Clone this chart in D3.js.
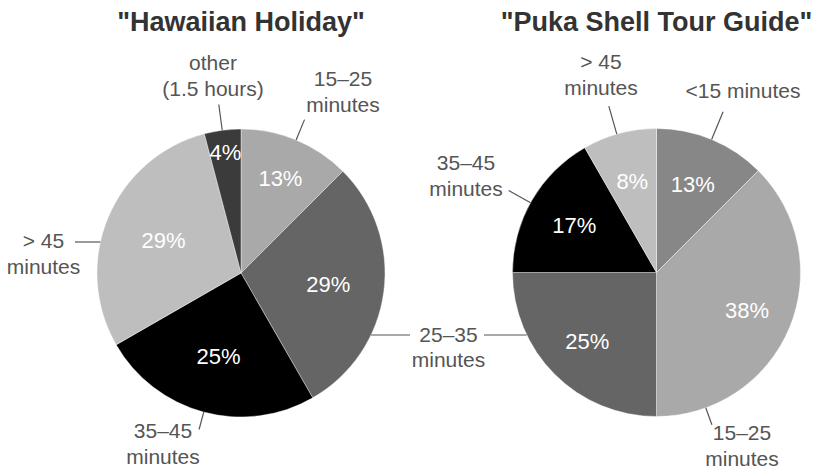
<!DOCTYPE html>
<html>
<head>
<meta charset="utf-8">
<script src="https://cdn.jsdelivr.net/npm/d3@7"></script>
<style>
  body { margin: 0; background: #fff; }
  svg text { font-family: "Liberation Sans", Arial, Helvetica, sans-serif; }
</style>
</head>
<body>
<div id="chart"></div>
<script>
// data (shares in %, clockwise from 12 o'clock)
const hawaiianCategories = ['15–25 minutes', '25–35 minutes', '35–45 minutes', '> 45 minutes', 'other (1.5 hours)'];
const hawaiianShares = [12.5, 29.2, 25, 29.2, 4.1];
const hawaiianPctLabels = ['13%', '29%', '25%', '29%', '4%'];

const pukaCategories = ['<15 minutes', '15–25 minutes', '25–35 minutes', '35–45 minutes', '> 45 minutes'];
const pukaShares = [12.5, 37.5, 25, 16.7, 8.3];
const pukaPctLabels = ['13%', '38%', '25%', '17%', '8%'];

const titles = ['"Hawaiian Holiday"', '"Puka Shell Tour Guide"'];

const allCategories = ['<15 minutes', '15–25 minutes', '25–35 minutes', '35–45 minutes', '> 45 minutes', 'other (1.5 hours)'];

const width = 822, height = 468, radius = 144;

const color = d3.scaleOrdinal()
  .domain(allCategories)
  .range(['#878787', '#a9a9a9', '#656565', '#000000', '#bebebe', '#3b3b3b']);

// label layout, offsets relative to each pie centre
const hawaiianLayout = {
  cx: 241, cy: 273,
  pctRadius: [103, 88, 86, 84, 122],
  labels: [
    { lines: ['15–25', 'minutes'], x: 102, y: -187, leader: { angle: 22.5, r1: 166 } },
    { lines: ['25–35', 'minutes'], x: 207.5, y: 68.7, leader: { h: 62, x: 169 } },
    { lines: ['35–45', 'minutes'], x: -78, y: 165, leader: { angle: 195, r1: 162 } },
    { lines: ['> 45', 'minutes'], x: -197.5, y: -25, leader: { h: -31, x: -166 } },
    { lines: ['other', '(1.5 hours)'], x: -28, y: -203, leader: { angle: 352.5, r1: 170 } }
  ]
};

const pukaLayout = {
  cx: 656.5, cy: 272.5,
  pctRadius: [95, 98, 98, 95, 94],
  labels: [
    { lines: ['<15 minutes'], x: 86.5, y: -174.5, leader: { angle: 22.5, r1: 174 } },
    { lines: ['15–25', 'minutes'], x: 85.5, y: 167.5, leader: { angle: 160, r1: 162 } },
    { lines: [], leader: { h: 62.5, x: -172.5 } }, // shares the text drawn by the left pie
    { lines: ['35–45', 'minutes'], x: -190.5, y: -102.5, leader: { angle: 299, r1: 169 } },
    { lines: ['> 45', 'minutes'], x: -55.5, y: -203.5, leader: { angle: 344, r1: 173 } }
  ]
};

const svg = d3.select('#chart').append('svg')
  .attr('width', width)
  .attr('height', height);

const pie = d3.pie().sort(null).value(d => d.value);
const arc = d3.arc().innerRadius(0).outerRadius(radius);

function drawPie(title, categories, shares, pctLabels, layout) {
  const data = categories.map((c, i) => ({ cat: c, value: shares[i], pct: pctLabels[i] }));
  const arcs = pie(data);

  const g = svg.append('g')
    .attr('transform', 'translate(' + layout.cx + ',' + layout.cy + ')');

  svg.append('text')
    .attr('x', layout.cx)
    .attr('y', 30.5)
    .attr('text-anchor', 'middle')
    .style('font-size', '27px')
    .style('font-weight', 'bold')
    .style('fill', '#333')
    .text(title);

  g.selectAll('path.slice')
    .data(arcs)
    .enter().append('path')
    .attr('class', 'slice')
    .attr('d', arc)
    .style('fill', d => color(d.data.cat))
    .style('stroke', '#fff')
    .style('stroke-width', 0.4);

  g.selectAll('text.pct')
    .data(arcs)
    .enter().append('text')
    .attr('class', 'pct')
    .attr('transform', (d, i) => {
      const r = layout.pctRadius[i];
      const c = d3.arc().innerRadius(r).outerRadius(r).centroid(d);
      return 'translate(' + c[0] + ',' + c[1] + ')';
    })
    .attr('dy', '0.35em')
    .attr('text-anchor', 'middle')
    .style('font-size', '22px')
    .style('fill', '#fff')
    .text(d => d.data.pct);

  // leader lines
  layout.labels.forEach(lab => {
    const ld = lab.leader;
    let p0, p1;
    if (ld.h !== undefined) {
      const ex = Math.sqrt(radius * radius - ld.h * ld.h) * Math.sign(ld.x);
      p0 = [ex, ld.h];
      p1 = [ld.x, ld.h];
    } else {
      const a = ld.angle * Math.PI / 180;
      p0 = d3.pointRadial(a, radius);
      p1 = d3.pointRadial(a, ld.r1);
    }
    g.append('line')
      .attr('x1', p0[0]).attr('y1', p0[1])
      .attr('x2', p1[0]).attr('y2', p1[1])
      .style('stroke', '#555')
      .style('stroke-width', 1.2);

    if (lab.lines.length) {
      const t = g.append('text')
        .attr('text-anchor', 'middle')
        .style('font-size', '21px')
        .style('fill', '#555');
      lab.lines.forEach((ln, j) => {
        t.append('tspan')
          .attr('x', lab.x)
          .attr('y', lab.y + j * 25.5)
          .text(ln);
      });
    }
  });
}

drawPie(titles[0], hawaiianCategories, hawaiianShares, hawaiianPctLabels, hawaiianLayout);
drawPie(titles[1], pukaCategories, pukaShares, pukaPctLabels, pukaLayout);
</script>
</body>
</html>
